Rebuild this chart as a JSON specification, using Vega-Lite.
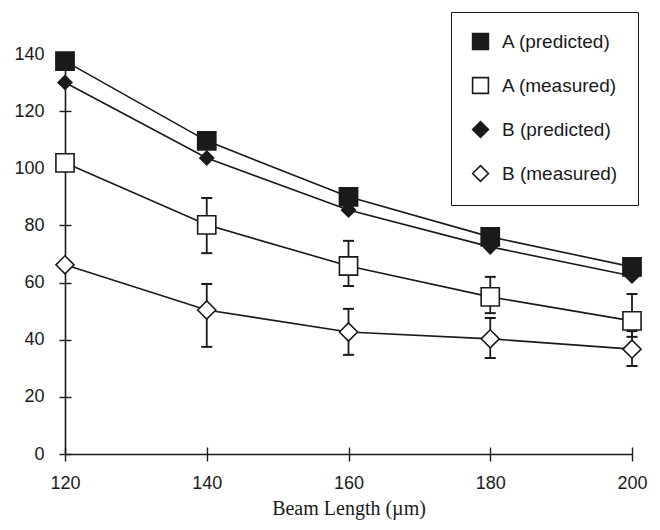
{
  "$schema": "https://vega.github.io/schema/vega-lite/v6.json",
  "width": 567,
  "height": 400,
  "autosize": {"type": "none"},
  "padding": {"left": 65, "top": 54, "right": 28, "bottom": 76},
  "background": "white",
  "config": {
    "view": {"stroke": null},
    "font": "Liberation Sans",
    "axis": {"grid": false, "domainColor": "#1a1a1a", "domainWidth": 1.6, "tickColor": "#1a1a1a", "tickWidth": 1.4, "labelColor": "#1a1a1a", "labelFont": "Liberation Sans", "labelFontSize": 18, "labelFlush": false},
    "legend": {"symbolStrokeWidth": 1.6}
  },
  "data": {
    "values": [
      {"x": 120, "series": "A (predicted)", "y": 137.5},
      {"x": 140, "series": "A (predicted)", "y": 109.6},
      {"x": 160, "series": "A (predicted)", "y": 90},
      {"x": 180, "series": "A (predicted)", "y": 76},
      {"x": 200, "series": "A (predicted)", "y": 65.5},
      {"x": 120, "series": "A (measured)", "y": 101.9},
      {"x": 140, "series": "A (measured)", "y": 80.2, "lo": 70.3, "hi": 89.6},
      {"x": 160, "series": "A (measured)", "y": 65.8, "lo": 58.8, "hi": 74.6},
      {"x": 180, "series": "A (measured)", "y": 55, "lo": 49.3, "hi": 62},
      {"x": 200, "series": "A (measured)", "y": 46.6, "lo": 41, "hi": 56},
      {"x": 120, "series": "B (predicted)", "y": 130},
      {"x": 140, "series": "B (predicted)", "y": 103.6},
      {"x": 160, "series": "B (predicted)", "y": 85.4},
      {"x": 180, "series": "B (predicted)", "y": 72.5},
      {"x": 200, "series": "B (predicted)", "y": 62.3},
      {"x": 120, "series": "B (measured)", "y": 66.2},
      {"x": 140, "series": "B (measured)", "y": 50.4, "lo": 37.5, "hi": 59.5},
      {"x": 160, "series": "B (measured)", "y": 42.7, "lo": 34.7, "hi": 50.8},
      {"x": 180, "series": "B (measured)", "y": 40.3, "lo": 33.6, "hi": 47.6},
      {"x": 200, "series": "B (measured)", "y": 36.7, "lo": 30.8, "hi": 43}
    ]
  },
  "encoding": {
    "x": {"field": "x", "type": "quantitative", "scale": {"domain": [120, 200], "nice": false, "zero": false}, "axis": null},
    "y": {"field": "y", "type": "quantitative", "scale": {"domain": [0, 140], "nice": false}, "axis": null}
  },
  "layer": [
    {
      "mark": {"type": "line", "color": "#1a1a1a", "strokeWidth": 1.6},
      "encoding": {
        "x": {
          "field": "x", "type": "quantitative",
          "scale": {"domain": [120, 200], "nice": false, "zero": false},
          "axis": {"orient": "bottom", "values": [120, 140, 160, 180, 200], "format": "d", "tickSize": 7, "labelPadding": 13, "title": "Beam Length (µm)", "titleFont": "Liberation Serif", "titleFontSize": 20, "titleFontWeight": "normal", "titleColor": "#1a1a1a", "titlePadding": 6}
        },
        "y": {
          "field": "y", "type": "quantitative",
          "scale": {"domain": [0, 140], "nice": false},
          "axis": {"orient": "left", "values": [0, 20, 40, 60, 80, 100, 120, 140], "tickSize": 6, "labelPadding": 15, "title": null}
        },
        "detail": {"field": "series"}
      }
    },
    {
      "mark": {"type": "line", "strokeOpacity": 0},
      "encoding": {
        "x": {
          "field": "x", "type": "quantitative",
          "scale": {"domain": [120, 200], "nice": false, "zero": false},
          "axis": {"orient": "bottom", "offset": -7, "values": [120, 140, 160, 180, 200], "tickSize": 7, "domain": false, "labels": false, "title": null}
        },
        "y": {
          "field": "y", "type": "quantitative",
          "scale": {"domain": [0, 140], "nice": false},
          "axis": {"orient": "left", "offset": -6, "values": [0, 20, 40, 60, 80, 100, 120, 140], "tickSize": 6, "domain": false, "labels": false, "title": null}
        },
        "detail": {"field": "series"}
      }
    },
    {
      "transform": [{"filter": "isValid(datum.lo)"}],
      "mark": {"type": "rule", "color": "#1a1a1a", "strokeWidth": 1.8},
      "encoding": {"y": {"field": "lo", "type": "quantitative", "axis": null}, "y2": {"field": "hi"}}
    },
    {
      "transform": [{"filter": "isValid(datum.lo)"}],
      "mark": {"type": "tick", "orient": "horizontal", "size": 11, "thickness": 2, "color": "#1a1a1a", "opacity": 1},
      "encoding": {"y": {"field": "lo", "type": "quantitative", "axis": null}}
    },
    {
      "transform": [{"filter": "isValid(datum.lo)"}],
      "mark": {"type": "tick", "orient": "horizontal", "size": 11, "thickness": 2, "color": "#1a1a1a", "opacity": 1},
      "encoding": {"y": {"field": "hi", "type": "quantitative", "axis": null}}
    },
    {
      "transform": [{"filter": "datum.series !== 'B (predicted)'"}],
      "mark": {"type": "point", "strokeWidth": 1.6, "opacity": 1, "fillOpacity": 1, "size": 330},
      "encoding": {
        "shape": {
          "field": "series", "type": "nominal",
          "scale": {"domain": ["A (predicted)", "A (measured)", "B (predicted)", "B (measured)"], "range": ["square", "square", "diamond", "diamond"]},
          "legend": {"title": null, "orient": "none", "legendX": 386, "legendY": -42, "strokeColor": "#1a1a1a", "fillColor": "white", "padding": 20, "rowPadding": 21, "symbolSize": 250, "symbolStrokeWidth": 1.6, "labelFontSize": 19, "labelColor": "#1a1a1a", "labelOffset": 12, "labelFont": "Liberation Sans"}
        },
        "fill": {
          "field": "series", "type": "nominal",
          "scale": {"domain": ["A (predicted)", "A (measured)", "B (predicted)", "B (measured)"], "range": ["#1a1a1a", "white", "#1a1a1a", "white"]},
          "legend": {"title": null, "orient": "none", "legendX": 386, "legendY": -42, "strokeColor": "#1a1a1a", "fillColor": "white", "padding": 20, "rowPadding": 21, "symbolSize": 250, "symbolStrokeWidth": 1.6, "labelFontSize": 19, "labelColor": "#1a1a1a", "labelOffset": 12, "labelFont": "Liberation Sans"}
        },
        "stroke": {
          "field": "series", "type": "nominal",
          "scale": {"domain": ["A (predicted)", "A (measured)", "B (predicted)", "B (measured)"], "range": ["#1a1a1a", "#1a1a1a", "#1a1a1a", "#1a1a1a"]},
          "legend": {"title": null, "orient": "none", "legendX": 386, "legendY": -42, "strokeColor": "#1a1a1a", "fillColor": "white", "padding": 20, "rowPadding": 21, "symbolSize": 250, "symbolStrokeWidth": 1.6, "labelFontSize": 19, "labelColor": "#1a1a1a", "labelOffset": 12, "labelFont": "Liberation Sans"}
        }
      }
    },
    {
      "transform": [{"filter": "datum.series === 'B (predicted)'"}],
      "mark": {"type": "point", "strokeWidth": 1.6, "opacity": 1, "fillOpacity": 1, "size": 190},
      "encoding": {
        "shape": {"field": "series", "type": "nominal"},
        "fill": {"field": "series", "type": "nominal"},
        "stroke": {"field": "series", "type": "nominal"}
      }
    }
  ],
  "resolve": {"axis": {"x": "independent", "y": "independent"}}
}
